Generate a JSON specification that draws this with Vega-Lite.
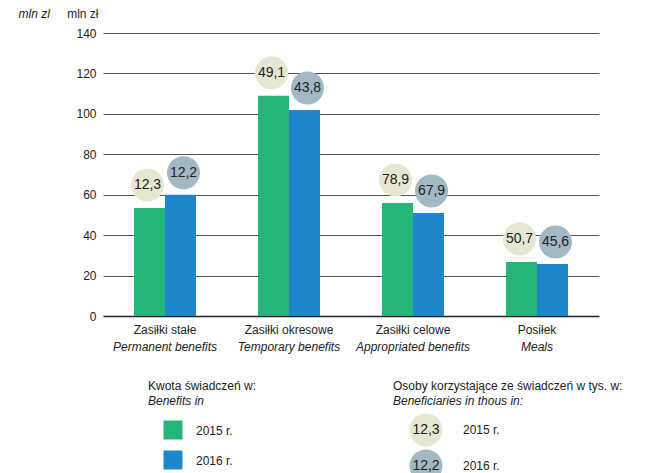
{
  "$schema": "https://vega.github.io/schema/vega-lite/v6.json",
  "width": 496,
  "height": 283,
  "autosize": {"type": "none"},
  "padding": {"left": 103, "top": 33, "right": 53, "bottom": 157},
  "config": {
    "font": "Liberation Sans",
    "view": {"stroke": null},
    "locale": {"number": {"decimal": ",", "thousands": " ", "grouping": [3], "currency": ["", " zł"]}}
  },
  "datasets": {
    "bars": [
      {"cat": "Zasiłki stałe", "year": "2015", "value": 53.4, "people": 12.3},
      {"cat": "Zasiłki stałe", "year": "2016", "value": 60.0, "people": 12.2},
      {"cat": "Zasiłki okresowe", "year": "2015", "value": 108.9, "people": 49.1},
      {"cat": "Zasiłki okresowe", "year": "2016", "value": 101.9, "people": 43.8},
      {"cat": "Zasiłki celowe", "year": "2015", "value": 55.9, "people": 78.9},
      {"cat": "Zasiłki celowe", "year": "2016", "value": 51.0, "people": 67.9},
      {"cat": "Posiłek", "year": "2015", "value": 26.7, "people": 50.7},
      {"cat": "Posiłek", "year": "2016", "value": 25.7, "people": 45.6}
    ],
    "cats": [
      {"cat": "Zasiłki stałe", "en": "Permanent benefits"},
      {"cat": "Zasiłki okresowe", "en": "Temporary benefits"},
      {"cat": "Zasiłki celowe", "en": "Appropriated benefits"},
      {"cat": "Posiłek", "en": "Meals"}
    ],
    "legend": [
      {"grp": "k", "part": "title", "row": "t1", "text": "Kwota świadczeń w:"},
      {"grp": "k", "part": "subtitle", "row": "t2", "text": "Benefits in"},
      {"grp": "o", "part": "title", "row": "t1", "text": "Osoby korzystające ze świadczeń w tys. w:"},
      {"grp": "o", "part": "subtitle", "row": "t2", "text": "Beneficiaries in thous in:"},
      {"grp": "k", "part": "sym", "row": "y2015", "year": "2015"},
      {"grp": "k", "part": "sym", "row": "y2016", "year": "2016"},
      {"grp": "k", "part": "lab", "row": "y2015", "text": "2015 r."},
      {"grp": "k", "part": "lab", "row": "y2016", "text": "2016 r."},
      {"grp": "o", "part": "sym", "row": "y2015", "year": "2015", "people": 12.3},
      {"grp": "o", "part": "sym", "row": "y2016", "year": "2016", "people": 12.2},
      {"grp": "o", "part": "lab", "row": "y2015", "text": "2015 r."},
      {"grp": "o", "part": "lab", "row": "y2016", "text": "2016 r."}
    ]
  },
  "layer": [
    {
      "data": {"name": "bars"},
      "encoding": {
        "x": {"field": "cat", "type": "nominal", "sort": null, "scale": {"paddingInner": 0.5, "paddingOuter": 0.25}, "axis": null}
      },
      "resolve": {"scale": {"xOffset": "independent"}},
      "layer": [
        {
          "mark": {"type": "bar"},
          "encoding": {
            "xOffset": {"field": "year", "type": "nominal"},
            "y": {
              "field": "value", "type": "quantitative",
              "scale": {"domain": [0, 140], "nice": false},
              "axis": {
                "values": [0, 20, 40, 60, 80, 100, 120, 140],
                "domain": false, "ticks": false,
                "labelPadding": 7, "labelFontSize": 12, "labelColor": "#222",
                "grid": true,
                "gridColor": {"condition": {"test": "datum.value === 0", "value": "#222"}, "value": "#555"},
                "gridWidth": {"condition": {"test": "datum.value === 0", "value": 1.5}, "value": 1},
                "title": "mln zł", "titleAngle": 0, "titleAlign": "right", "titleBaseline": "middle",
                "titleX": -5, "titleY": -20, "titleFontSize": 12, "titleFontWeight": "normal", "titleColor": "#222"
              }
            },
            "color": {"field": "year", "type": "nominal", "scale": {"domain": ["2015", "2016"], "range": ["#25b47a", "#1f87c9"]}, "legend": null}
          }
        },
        {
          "transform": [{"filter": "datum.year === '2015'"}],
          "mark": {"type": "circle", "size": 1090, "opacity": 1, "color": "#e6e7d3", "yOffset": -23},
          "encoding": {
            "xOffset": {"field": "year", "type": "nominal", "scale": {"domain": ["2015", "2016"], "range": [-4.5, 67.5]}},
            "y": {"field": "value", "type": "quantitative"}
          }
        },
        {
          "transform": [{"filter": "datum.year === '2016'"}],
          "mark": {"type": "circle", "size": 1090, "opacity": 1, "color": "#a2b8c3", "yOffset": -22},
          "encoding": {
            "xOffset": {"field": "year", "type": "nominal", "scale": {"domain": ["2015", "2016"], "range": [-4.5, 67.5]}},
            "y": {"field": "value", "type": "quantitative"}
          }
        },
        {
          "transform": [{"filter": "datum.year === '2015'"}],
          "mark": {"type": "text", "fontSize": 14, "color": "#222", "baseline": "middle", "yOffset": -23},
          "encoding": {
            "xOffset": {"field": "year", "type": "nominal", "scale": {"domain": ["2015", "2016"], "range": [-4.5, 67.5]}},
            "y": {"field": "value", "type": "quantitative"},
            "text": {"field": "people", "type": "quantitative", "format": ".1f"}
          }
        },
        {
          "transform": [{"filter": "datum.year === '2016'"}],
          "mark": {"type": "text", "fontSize": 14, "color": "#222", "baseline": "middle", "yOffset": -22},
          "encoding": {
            "xOffset": {"field": "year", "type": "nominal", "scale": {"domain": ["2015", "2016"], "range": [-4.5, 67.5]}},
            "y": {"field": "value", "type": "quantitative"},
            "text": {"field": "people", "type": "quantitative", "format": ".1f"}
          }
        },
        {
          "data": {"name": "cats"},
          "mark": {"type": "text", "fontSize": 12, "color": "#222", "baseline": "middle", "yOffset": 14},
          "encoding": {
            "y": {"datum": 0, "type": "quantitative"},
            "text": {"field": "cat"}
          }
        },
        {
          "data": {"name": "cats"},
          "mark": {"type": "text", "fontSize": 12, "fontStyle": "italic", "color": "#222", "baseline": "middle", "yOffset": 31},
          "encoding": {
            "y": {"datum": 0, "type": "quantitative"},
            "text": {"field": "en"}
          }
        }
      ]
    },
    {
      "data": {"name": "legend"},
      "encoding": {
        "x": {"field": "grp", "type": "nominal", "scale": {"type": "point", "domain": ["k", "o"], "range": [45, 290], "padding": 0}, "axis": null},
        "y": {
          "field": "row", "type": "nominal",
          "scale": {"type": "point", "domain": ["t1", "t2", "g1", "y2015", "g2", "y2016"], "range": [353, 428], "padding": 0},
          "axis": {
            "orient": "left", "labels": false, "ticks": false, "domain": false, "grid": false,
            "title": "mln zl", "titleFontStyle": "italic", "titleFontWeight": "normal", "titleFontSize": 12, "titleColor": "#222",
            "titleAngle": 0, "titleAlign": "left", "titleBaseline": "middle", "titleX": -85, "titleY": -20
          }
        }
      },
      "layer": [
        {
          "transform": [{"filter": "datum.part === 'title'"}],
          "mark": {"type": "text", "align": "left", "baseline": "middle", "fontSize": 12, "color": "#222"},
          "encoding": {"text": {"field": "text"}}
        },
        {
          "transform": [{"filter": "datum.part === 'subtitle'"}],
          "mark": {"type": "text", "align": "left", "baseline": "middle", "fontSize": 12, "fontStyle": "italic", "color": "#222"},
          "encoding": {"text": {"field": "text"}}
        },
        {
          "transform": [{"filter": "datum.grp === 'k' && datum.part === 'sym'"}],
          "mark": {"type": "square", "size": 361, "filled": true, "opacity": 1, "xOffset": 25, "yOffset": -1},
          "encoding": {"color": {"field": "year", "type": "nominal", "legend": null}}
        },
        {
          "transform": [{"filter": "datum.grp === 'k' && datum.part === 'lab'"}],
          "mark": {"type": "text", "align": "left", "baseline": "middle", "fontSize": 12, "color": "#222", "xOffset": 48},
          "encoding": {"text": {"field": "text"}}
        },
        {
          "transform": [{"filter": "datum.grp === 'o' && datum.part === 'sym' && datum.year === '2015'"}],
          "mark": {"type": "circle", "size": 1090, "opacity": 1, "color": "#e6e7d3", "xOffset": 33, "yOffset": -1}
        },
        {
          "transform": [{"filter": "datum.grp === 'o' && datum.part === 'sym' && datum.year === '2016'"}],
          "mark": {"type": "circle", "size": 1090, "opacity": 1, "color": "#a2b8c3", "xOffset": 33, "yOffset": 5}
        },
        {
          "transform": [{"filter": "datum.grp === 'o' && datum.part === 'sym' && datum.year === '2015'"}],
          "mark": {"type": "text", "fontSize": 14, "color": "#222", "baseline": "middle", "xOffset": 33, "yOffset": -1},
          "encoding": {"text": {"field": "people", "type": "quantitative", "format": ".1f"}}
        },
        {
          "transform": [{"filter": "datum.grp === 'o' && datum.part === 'sym' && datum.year === '2016'"}],
          "mark": {"type": "text", "fontSize": 14, "color": "#222", "baseline": "middle", "xOffset": 33, "yOffset": 5},
          "encoding": {"text": {"field": "people", "type": "quantitative", "format": ".1f"}}
        },
        {
          "transform": [{"filter": "datum.grp === 'o' && datum.part === 'lab' && datum.row === 'y2015'"}],
          "mark": {"type": "text", "align": "left", "baseline": "middle", "fontSize": 12, "color": "#222", "xOffset": 70, "yOffset": -1},
          "encoding": {"text": {"field": "text"}}
        },
        {
          "transform": [{"filter": "datum.grp === 'o' && datum.part === 'lab' && datum.row === 'y2016'"}],
          "mark": {"type": "text", "align": "left", "baseline": "middle", "fontSize": 12, "color": "#222", "xOffset": 70, "yOffset": 5},
          "encoding": {"text": {"field": "text"}}
        }
      ]
    }
  ],
  "resolve": {"scale": {"x": "independent", "y": "independent"}}
}
